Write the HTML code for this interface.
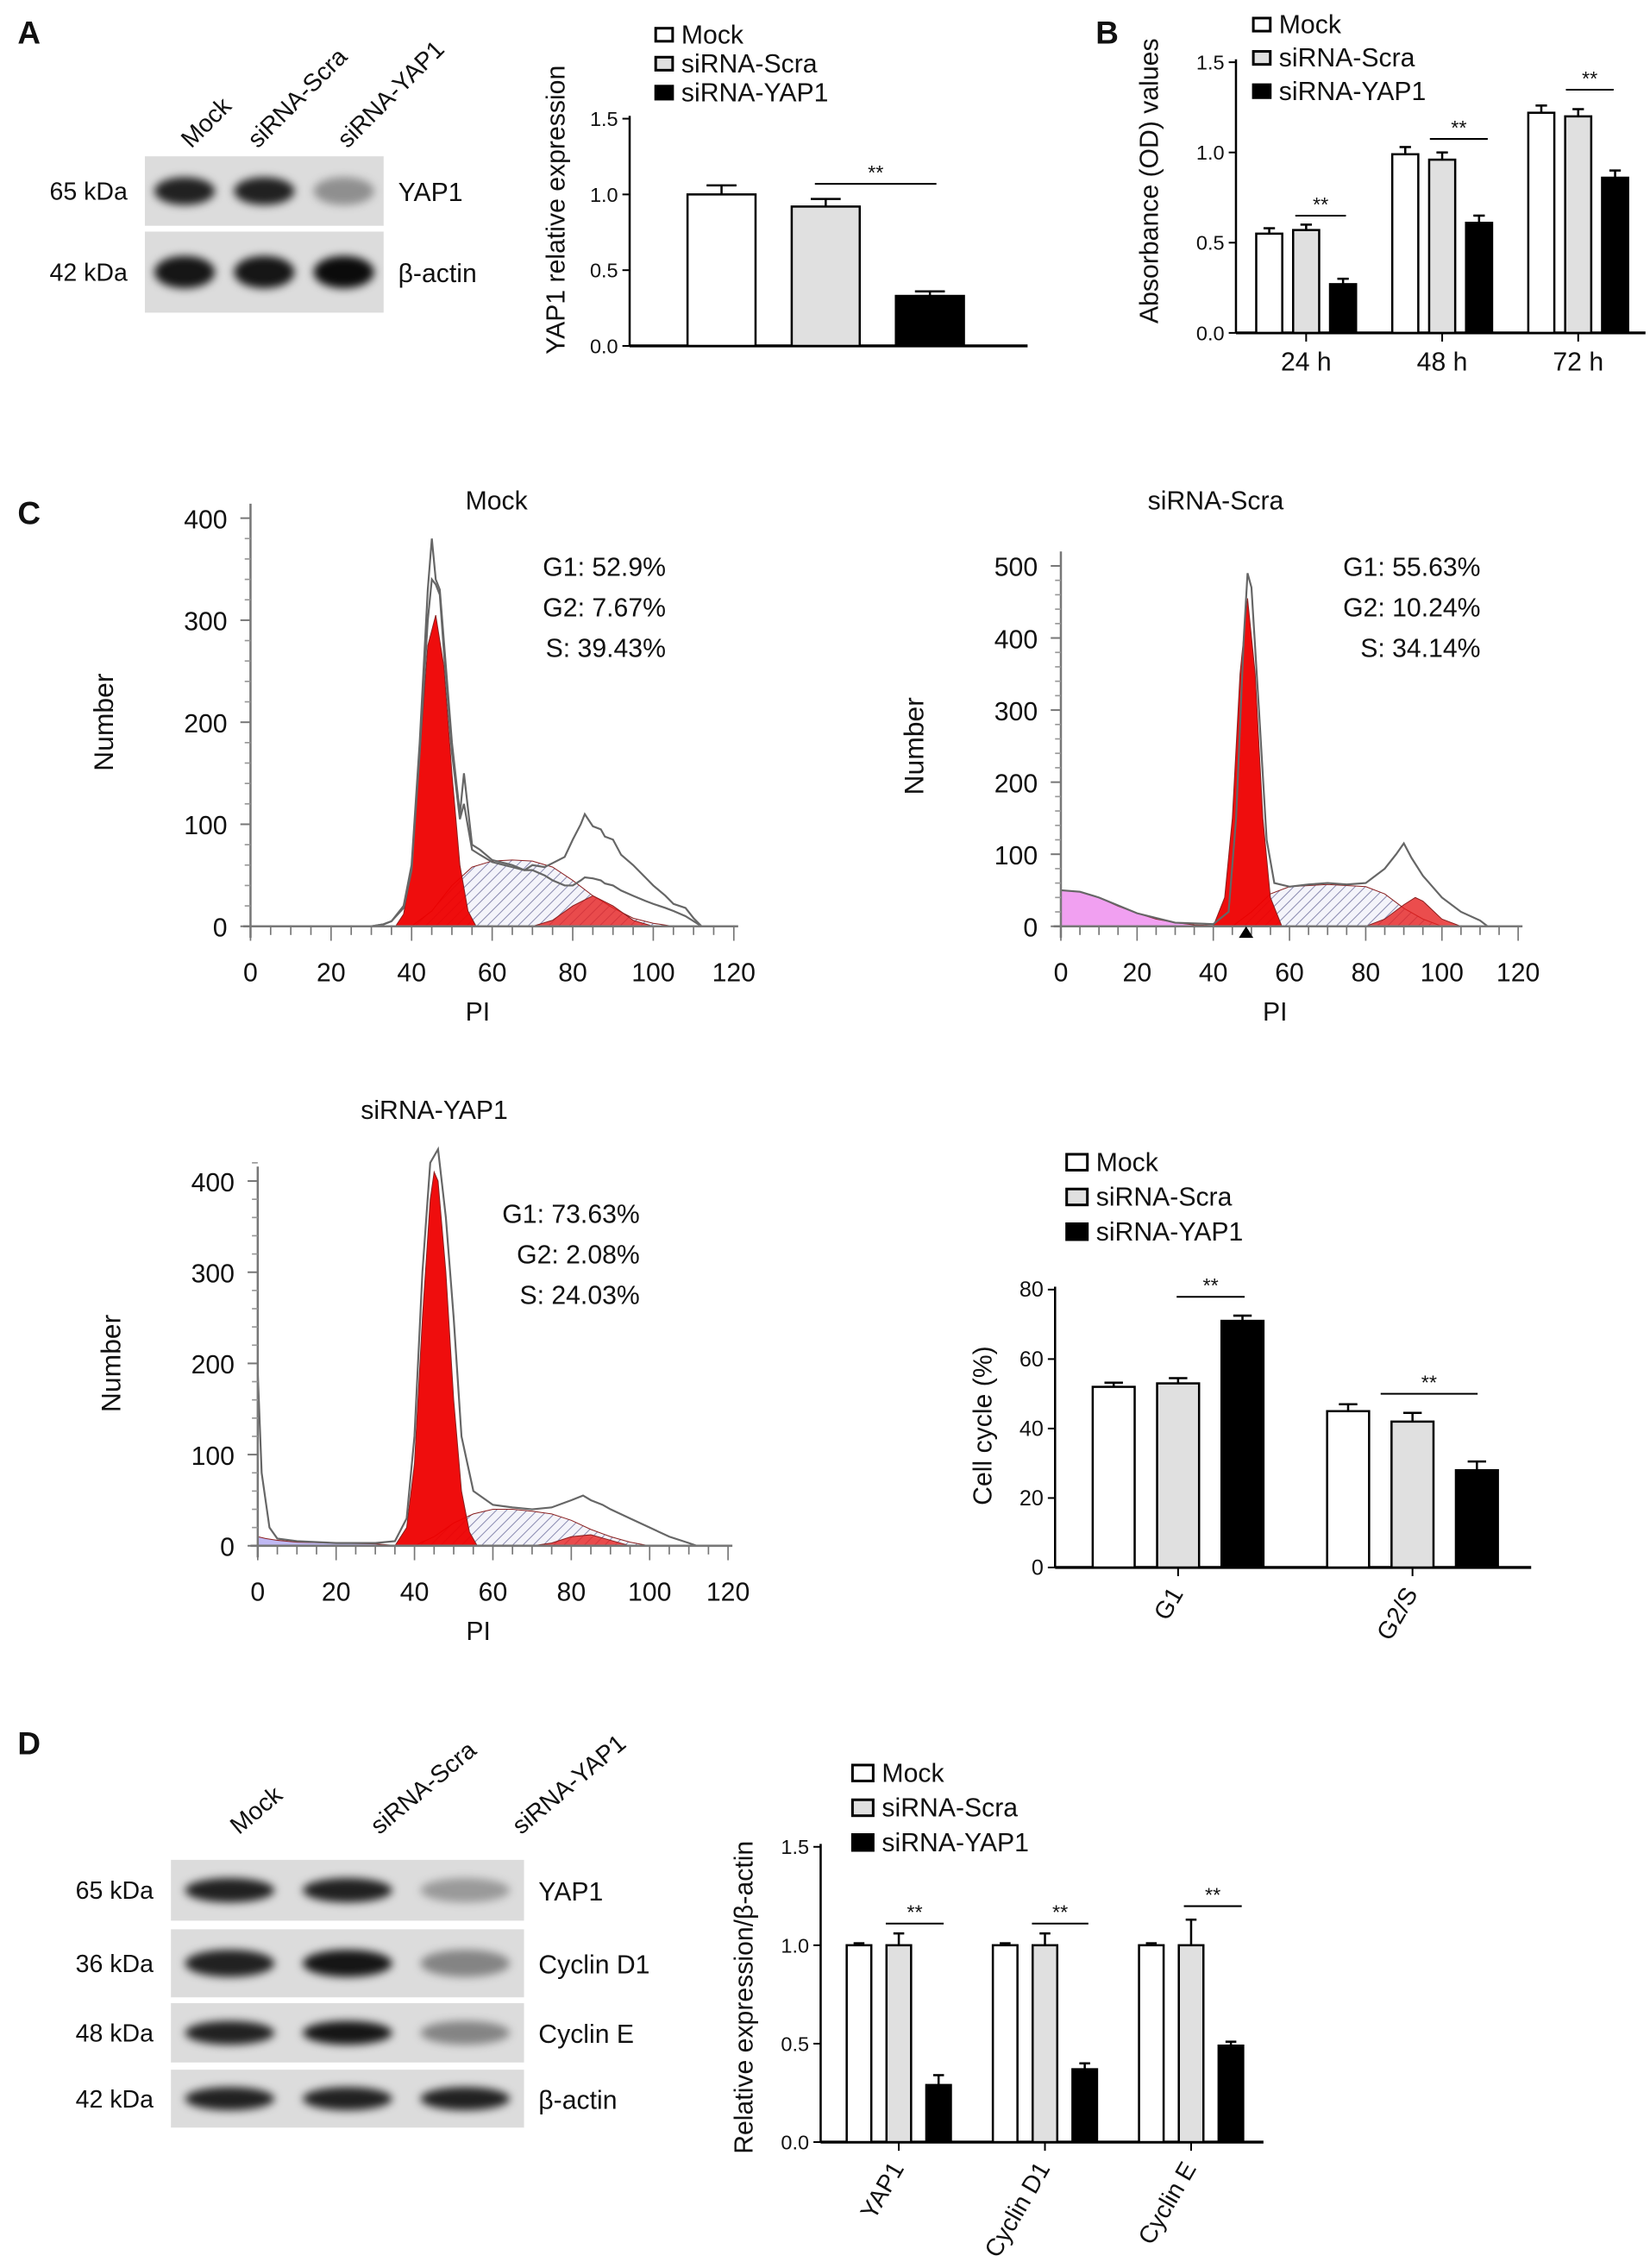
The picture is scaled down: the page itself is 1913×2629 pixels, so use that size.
<!DOCTYPE html>
<html><head><meta charset="utf-8">
<style>
html,body{margin:0;padding:0;background:#fff;}
svg{display:block;font-family:"Liberation Sans",Arial,sans-serif;}
</style></head>
<body>
<svg id="fig" width="1913" height="2629" viewBox="0 0 1140 1567" xmlns="http://www.w3.org/2000/svg">
<defs>
<pattern id="hatch" patternUnits="userSpaceOnUse" width="5" height="5" patternTransform="rotate(45)">
<rect width="5" height="5" fill="#f4f4fa"/><line x1="0" y1="0" x2="0" y2="5" stroke="#8a8ab0" stroke-width="1.2"/></pattern>
<filter id="blur" x="-20%" y="-50%" width="140%" height="200%"><feGaussianBlur stdDeviation="3"/></filter>
</defs>
<g id="root"></g>
</svg>
<script>
// ---- Panel A bar chart data ----
const aGroups = ["Mock","siRNA-Scra","siRNA-YAP1"];
const aValues = [1.0, 0.92, 0.33];
const aErrors = [0.06, 0.05, 0.03];
// ---- Panel B data ----
const bCats = ["24 h","48 h","72 h"];
const bMock = [0.55, 0.99, 1.22];
const bScra = [0.57, 0.96, 1.20];
const bYap = [0.27, 0.61, 0.86];
const bErr = [0.03, 0.04, 0.04];
// ---- Cell cycle data ----
const ccCats = ["G1","G2/S"];
const ccMock = [52, 45];
const ccScra = [53, 42];
const ccYap = [71, 28];
const ccErrMock = [1.2, 2];
const ccErrScra = [1.5, 2.5];
const ccErrYap = [1.5, 2.5];
// ---- Panel D data ----
const dCats = ["YAP1","Cyclin D1","Cyclin E"];
const dMock = [1.0, 1.0, 1.0];
const dScra = [1.0, 1.0, 1.0];
const dYap = [0.29, 0.37, 0.49];
const dErrMock = [0.01, 0.01, 0.01];
const dErrScra = [0.06, 0.06, 0.13];
const dErrYap = [0.05, 0.03, 0.02];
// ---- Flow histogram data (PI, count) ----
const mockOutX = [30,33,35,38,40,42,44,45,46,47,48,50,52,53,55,57,60,63,65,68,70,73,75,78,80,82,83,85,87,88,90,92,95,98,100,103,105,108,110,112];
const mockOutY = [0,2,5,20,60,180,330,380,340,330,280,180,110,150,80,75,65,62,60,55,60,58,62,68,85,100,110,98,95,88,85,70,60,48,40,30,22,18,8,0];
const mockOut2Y = [0,2,5,18,55,170,300,340,335,325,270,170,105,120,75,70,63,60,58,55,55,50,45,40,40,45,48,47,45,42,40,35,30,25,22,18,15,10,5,0];
const mockRedX = [36,38,40,42,44,46,48,50,52,54,56];
const mockRedY = [0,12,55,165,275,305,255,150,60,15,0];
const mockSX = [40,45,50,55,60,65,70,75,80,85,90,95,100,105];
const mockSY = [0,15,40,58,64,65,64,58,45,30,18,8,3,0];
const mockG2X = [70,75,80,85,90,95,100];
const mockG2Y = [0,6,20,30,20,6,0];

const scraPinkX = [0,5,10,15,20,25,30,35,40,45];
const scraPinkY = [50,48,40,28,18,10,5,2,1,0];
const scraOutX = [0,5,10,20,30,40,44,46,48,49,50,52,54,56,60,65,70,75,80,85,88,90,92,95,100,105,110,112];
const scraOutY = [50,48,40,18,5,3,20,150,400,490,470,300,120,60,55,58,60,58,60,80,100,115,95,70,40,20,8,0];
const scraRedX = [40,43,45,47,49,51,53,55,58];
const scraRedY = [0,40,150,350,455,350,150,40,0];
const scraSX = [45,50,55,60,70,80,85,90,95,100];
const scraSY = [0,20,45,55,58,55,45,25,10,0];
const scraG2X = [80,85,90,93,95,100,105];
const scraG2Y = [0,10,30,40,35,10,0];

const yapOutX = [0,1,3,5,10,20,30,35,38,40,42,44,46,48,50,52,55,60,65,70,75,80,83,85,88,90,95,100,105,110,112];
const yapOutY = [190,80,20,8,5,3,3,5,30,120,300,420,435,360,250,120,60,45,42,40,42,50,55,50,45,40,30,20,10,3,0];
const yapPurpX = [0,2,5,10,20,30,36];
const yapPurpY = [10,8,6,4,3,2,0];
const yapRedX = [35,38,40,42,44,45,46,48,50,52,54,56];
const yapRedY = [0,20,90,250,380,410,400,300,160,60,15,0];
const yapSX = [40,45,50,55,60,65,70,75,80,85,90,95,100];
const yapSY = [0,10,25,35,40,40,38,35,28,18,10,4,0];
const yapG2X = [70,75,80,85,90,95];
const yapG2Y = [0,3,10,12,6,0];

const NS = "http://www.w3.org/2000/svg";
const root = document.getElementById('root');
function el(tag, attrs, parent, txt){
  const e = document.createElementNS(NS, tag);
  for (const k in attrs) e.setAttribute(k, attrs[k]);
  if (txt !== undefined) e.textContent = txt;
  (parent||root).appendChild(e);
  return e;
}
function text(x,y,s,size,opts){
  opts = opts||{};
  const t = el('text',{x:x,y:y,'font-size':size,fill:'#111','text-anchor':opts.anchor||'start','font-weight':opts.bold?'bold':'normal'},opts.parent,s);
  if (opts.rot!==undefined) t.setAttribute('transform','rotate('+opts.rot+' '+x+' '+y+')');
  return t;
}

// Panel letters
[["A",12,30],["B",757,30],["C",12,362],["D",12,1212]].forEach(p=>{
  const t = text(p[1],p[2],p[0],22,{bold:true});
  
  
});

// ---------- Western blots ----------
function blot(x,y,w,h,intens,label,kda,name){
  const g = el('g',{});
  
  
  el('rect',{x:x,y:y,width:w,height:h,fill:'#dcdcdc'},g);
  const lw = w/3;
  intens.forEach((v,i)=>{
    el('ellipse',{cx:x+lw*(i+0.5),cy:y+h/2,rx:lw*0.38,ry:h*0.2,fill:'#000','fill-opacity':v,filter:'url(#blur)'},g);
  });
  text(x-12,y+h/2+6,kda,17,{anchor:'end',parent:g});
  text(x+w+10,y+h/2+7,label,18,{parent:g});
}
blot(100,108,165,48,[0.85,0.85,0.35],"YAP1","65 kDa","blot-a-yap1");
blot(100,160,165,56,[0.9,0.9,0.95],"β-actin","42 kDa","blot-a-actin");
[["Mock",132,103],["siRNA-Scra",178,103],["siRNA-YAP1",240,103]].forEach(l=>{
  const t=text(l[1],l[2],l[0],17,{rot:-45});  
});
blot(118,1285,244,42,[0.85,0.85,0.3],"YAP1","65 kDa","blot-d-yap1");
blot(118,1333,244,47,[0.85,0.9,0.4],"Cyclin D1","36 kDa","blot-d-cyclind1");
blot(118,1384,244,41,[0.85,0.9,0.4],"Cyclin E","48 kDa","blot-d-cycline");
blot(118,1430,244,40,[0.85,0.85,0.85],"β-actin","42 kDa","blot-d-actin");
[["Mock",165,1268],["siRNA-Scra",262,1268],["siRNA-YAP1",360,1268]].forEach(l=>{
  const t=text(l[1],l[2],l[0],17,{rot:-40});  
});

const FILLS = ['#ffffff','#e0e0e0','#000000'];

// ---------- Generic bar chart ----------
function barChart(c){
  const g = el('g',{});
  
  
  const ys = v => c.y0 - (v - 0)/(c.ymax)*(c.y0-c.y1);
  el('line',{x1:c.ax,y1:c.y1-2,x2:c.ax,y2:c.y0,stroke:'#000','stroke-width':1.5},g);
  el('line',{x1:c.ax,y1:c.y0,x2:c.xEnd,y2:c.y0,stroke:'#000','stroke-width':2},g);
  c.ticks.forEach((t,i)=>{
    const y = ys(t);
    el('line',{x1:c.ax-5,y1:y,x2:c.ax,y2:y,stroke:'#000','stroke-width':1.2},g);
    text(c.ax-8,y+5,c.tickLabels[i],c.tickSize||14,{anchor:'end',parent:g});
  });
  c.series.forEach((s,si)=>{
    s.forEach((v,gi)=>{
      const x = c.x0 + gi*c.groupW + si*c.barStep;
      const top = ys(v);
      const eTop = ys(v + c.errs[si][gi]);
      const cx = x + c.barW/2;
      el('line',{x1:cx,y1:top,x2:cx,y2:eTop,stroke:'#000','stroke-width':1.5},g);
      el('line',{x1:cx-c.barW*0.22,y1:eTop,x2:cx+c.barW*0.22,y2:eTop,stroke:'#000','stroke-width':1.5},g);
      const r = el('rect',{x:x,y:top,width:c.barW,height:c.y0-top,fill:FILLS[si],stroke:'#000','stroke-width':1.5},g);
      
      
    });
  });
  c.cats.forEach((cat,gi)=>{
    if(!c.catLabels) return;
    const cx = c.x0 + gi*c.groupW + c.barStep + c.barW/2;
    el('line',{x1:cx,y1:c.y0,x2:cx,y2:c.y0+6,stroke:'#000','stroke-width':1.2},g);
    if (c.rotLabels){
      text(cx+4,c.y0+18,cat,17,{anchor:'end',rot:c.rotLabels,parent:g});
    } else text(cx,c.y0+26,cat,18,{anchor:'middle',parent:g});
  });
  c.sig.forEach(sg=>{
    el('line',{x1:sg[0],y1:sg[2],x2:sg[1],y2:sg[2],stroke:'#000','stroke-width':1.2},g);
    text((sg[0]+sg[1])/2,sg[2]-3,'**',14,{anchor:'middle',parent:g});
  });
  const yt = text(c.titleX,c.titleY,c.title,18,{anchor:'middle',rot:-90,parent:g});
  
  
  const lg = el('g',{},g);
  
  
  ["Mock","siRNA-Scra","siRNA-YAP1"].forEach((n,i)=>{
    const y = c.legY + i*c.legStep;
    el('rect',{x:c.legX,y:y-c.legS/2-5,width:c.legS*1.3,height:c.legS,fill:FILLS[i],stroke:'#000','stroke-width':1.8},lg);
    const t = text(c.legX+c.legS*1.3+6,y+1,n,18,{parent:lg});
    
    
  });
  return g;
}

barChart({name:'yap1-expression-chart',ax:435,y0:239,y1:82,ymax:1.5,xEnd:710,
  ticks:[0,0.5,1.0,1.5],tickLabels:["0.0","0.5","1.0","1.5"],
  series:[[aValues[0]],[aValues[1]],[aValues[2]]],errs:[[aErrors[0]],[aErrors[1]],[aErrors[2]]],
  cats:["YAP1"],catLabels:false,x0:475,groupW:0,barStep:72,barW:47,
  sig:[[563,647,127]],title:"YAP1 relative expression",titleX:390,titleY:145,
  legX:453,legY:29,legStep:20,legS:9});

barChart({name:'absorbance-chart',ax:854,y0:230,y1:43,ymax:1.5,xEnd:1137,
  ticks:[0,0.5,1.0,1.5],tickLabels:["0.0","0.5","1.0","1.5"],
  series:[bMock,bScra,bYap],errs:[bErr,bErr,bErr],
  cats:bCats,catLabels:true,x0:868,groupW:94,barStep:25.5,barW:18,
  sig:[[895,930,149],[988,1028,96],[1082,1115,62]],title:"Absorbance (OD) values",titleX:800,titleY:125,
  legX:866,legY:22,legStep:23,legS:9});

barChart({name:'cell-cycle-chart',ax:729,y0:1083,y1:891,ymax:80,xEnd:1058,
  ticks:[0,20,40,60,80],tickLabels:["0","20","40","60","80"],tickSize:15,
  series:[ccMock,ccScra,ccYap],errs:[ccErrMock,ccErrScra,ccErrYap],
  cats:ccCats,catLabels:true,rotLabels:-60,x0:755,groupW:162,barStep:44.5,barW:29,
  sig:[[813,860,896],[954,1021,963]],title:"Cell cycle (%)",titleX:685,titleY:985,
  legX:737,legY:808,legStep:24,legS:11});

barChart({name:'relative-expression-chart',ax:567,y0:1480,y1:1276,ymax:1.5,xEnd:873,
  ticks:[0,0.5,1.0,1.5],tickLabels:["0.0","0.5","1.0","1.5"],
  series:[dMock,dScra,dYap],errs:[dErrMock,dErrScra,dErrYap],
  cats:dCats,catLabels:true,rotLabels:-60,x0:585,groupW:101,barStep:27.5,barW:17,
  sig:[[612,652,1329],[713,752,1329],[818,858,1317]],title:"Relative expression/β-actin",titleX:520,titleY:1380,
  legX:589,legY:1230,legStep:24,legS:11});

// ---------- Flow histograms ----------
function flow(c){
  const g = el('g',{});
  
  
  const xs = v => c.x0 + v/120*(c.x1-c.x0);
  const ys = v => c.y0 - v/c.ymax*(c.y0-c.yTop);
  function area(X,Y,fill,op,name){
    let d = 'M'+xs(X[0])+','+c.y0;
    X.forEach((x,i)=>{ d += ' L'+xs(x).toFixed(1)+','+ys(Y[i]).toFixed(1); });
    d += ' L'+xs(X[X.length-1])+','+c.y0+' Z';
    const p = el('path',{d:d,fill:fill,'fill-opacity':op,stroke:'#8a2020','stroke-width':0.6},g);
    
    
  }
  function line(X,Y,name){
    let d='';
    X.forEach((x,i)=>{ d += (i?' L':'M')+xs(x).toFixed(1)+','+ys(Y[i]).toFixed(1); });
    const p = el('path',{d:d,fill:'none',stroke:'#666','stroke-width':1.3},g);
    
    
  }
  if (c.pink) area(c.pink[0],c.pink[1],c.pinkFill,0.8,'sub-g1-area');
  area(c.s[0],c.s[1],'url(#hatch)',1,'s-phase-area');
  area(c.red[0],c.red[1],'#ee0000',0.95,'g1-peak');
  area(c.g2[0],c.g2[1],'#e62020',0.8,'g2-peak');
  line(c.out[0],c.out[1],'histogram-outline');
  if (c.out2) line(c.out[0],c.out2,'fit-outline');
  el('line',{x1:c.x0,y1:c.yTop-10,x2:c.x0,y2:c.y0+8,stroke:'#777','stroke-width':1.5},g);
  el('line',{x1:c.x0-5,y1:c.y0,x2:c.x1+3,y2:c.y0,stroke:'#777','stroke-width':1.5},g);
  for(let v=0; v<=120; v+=5){
    el('line',{x1:xs(v),y1:c.y0,x2:xs(v),y2:c.y0+(v%20==0?10:6),stroke:'#777','stroke-width':1},g);
  }
  for(let v=0; v<=120; v+=20) text(xs(v),c.y0+38,String(v),18,{anchor:'middle',parent:g});
  c.ticks.forEach(t=>{
    el('line',{x1:c.x0-7,y1:ys(t),x2:c.x0,y2:ys(t),stroke:'#777','stroke-width':1.2},g);
    text(c.x0-16,ys(t)+7,String(t),18,{anchor:'end',parent:g});
  });
  c.minor.forEach(t=>el('line',{x1:c.x0-4,y1:ys(t),x2:c.x0,y2:ys(t),stroke:'#999','stroke-width':1},g));
  text((c.x0+c.x1)/2-10,c.y0+65,'PI',18,{anchor:'middle',parent:g});
  text(c.x0-95,(c.yTop+c.y0)/2,'Number',19,{anchor:'middle',rot:-90,parent:g});
  const tt = text(c.titleX,c.titleY,c.title,18,{anchor:'middle',parent:g});
  
  
  c.stats.forEach((s,i)=>text(c.statX,c.statY+i*28,s,18,{anchor:'end',parent:g}));
}
flow({name:'histogram-mock',x0:173,x1:507,y0:640,yTop:358,ymax:400,ticks:[0,100,200,300,400],minor:[20,40,60,80,120,140,160,180,220,240,260,280,320,340,360,380],
  out:[mockOutX,mockOutY],out2:mockOut2Y,red:[mockRedX,mockRedY],s:[mockSX,mockSY],g2:[mockG2X,mockG2Y],
  title:'Mock',titleX:343,titleY:352,stats:['G1: 52.9%','G2: 7.67%','S: 39.43%'],statX:460,statY:398});
flow({name:'histogram-sirna-scra',x0:733,x1:1049,y0:640,yTop:391,ymax:500,ticks:[0,100,200,300,400,500],minor:[20,40,60,80,120,140,160,180,220,240,260,280,320,340,360,380,420,440,460,480],
  out:[scraOutX,scraOutY],red:[scraRedX,scraRedY],s:[scraSX,scraSY],g2:[scraG2X,scraG2Y],pink:[scraPinkX,scraPinkY],pinkFill:'#ee88ee',
  title:'siRNA-Scra',titleX:840,titleY:352,stats:['G1: 55.63%','G2: 10.24%','S: 34.14%'],statX:1023,statY:398});
flow({name:'histogram-sirna-yap1',x0:178,x1:503,y0:1068,yTop:816,ymax:400,ticks:[0,100,200,300,400],minor:[20,40,60,80,120,140,160,180,220,240,260,280,320,340,360,380,420],
  out:[yapOutX,yapOutY],red:[yapRedX,yapRedY],s:[yapSX,yapSY],g2:[yapG2X,yapG2Y],pink:[yapPurpX,yapPurpY],pinkFill:'#b0a8f0',
  title:'siRNA-YAP1',titleX:300,titleY:773,stats:['G1: 73.63%','G2: 2.08%','S: 24.03%'],statX:442,statY:845});
const tri = el('path',{d:'M856,648 L861,640 L866,648 Z',fill:'#000'});


</script>
</body></html>
